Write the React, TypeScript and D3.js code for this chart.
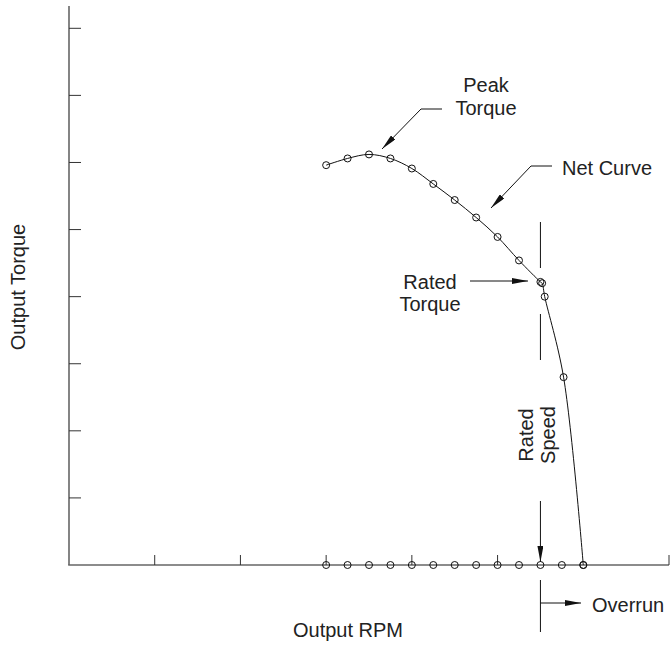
import React from "react";
import * as d3 from "d3";

// Curve data (Output RPM in tick units, Output Torque in tick units)
const curveRpm = [3.0, 3.25, 3.5, 3.75, 4.0, 4.25, 4.5, 4.75, 5.0, 5.25, 5.5, 5.52, 5.55, 5.77, 6.0];
const curveTorque = [5.96, 6.06, 6.12, 6.06, 5.91, 5.68, 5.44, 5.18, 4.89, 4.54, 4.22, 4.2, 4.0, 2.8, 0];

// Markers along the RPM axis
const axisMarks = [3.0, 3.25, 3.5, 3.75, 4.0, 4.25, 4.5, 4.75, 5.0, 5.25, 5.5, 5.75, 6.0];

const xTicks = [1, 2, 3, 4, 5, 7];
const yTicks = [1, 2, 3, 4, 5, 6, 7, 8];

const W = 671;
const H = 647;
const FONT = "'Liberation Sans', Arial, Helvetica, sans-serif";
const FS = 20;
const TXT = "#222";
const AX = "#666";

export default function App() {
  const x = d3.scaleLinear().domain([0, 7]).range([69, 669]);
  const y = d3.scaleLinear().domain([0, 8]).range([565, 28.3]);

  const pts: [number, number][] = curveRpm.map((r, i) => [r, curveTorque[i]]);
  const line = d3
    .line<[number, number]>()
    .x((d) => x(d[0]))
    .y((d) => y(d[1]))
    .curve(d3.curveCatmullRom.alpha(0.5));

  const rated = x(5.5);

  return (
    <svg
      width={W}
      height={H}
      style={{ position: "absolute", left: 0, top: 0, background: "#fff" }}
      fontFamily={FONT}
    >
      <defs>
        <marker
          id="ah"
          viewBox="0 0 16 6"
          refX={16}
          refY={3}
          markerWidth={16}
          markerHeight={6}
          markerUnits="userSpaceOnUse"
          orient="auto"
        >
          <path d="M0,0 L16,3 L0,6 Z" fill="#111" />
        </marker>
      </defs>

      {/* Y axis */}
      <line x1={x(0)} x2={x(0)} y1={6} y2={y(0)} stroke={AX} strokeWidth={1.6} />
      {yTicks.map((t) => (
        <line key={"yt" + t} x1={x(0)} x2={x(0) + 12} y1={y(t)} y2={y(t)} stroke="#333" strokeWidth={1} />
      ))}

      {/* X axis */}
      <line x1={x(0) - 0.8} x2={x(7)} y1={y(0)} y2={y(0)} stroke={AX} strokeWidth={1.6} />
      {xTicks.map((t) => (
        <line key={"xt" + t} x1={x(t)} x2={x(t)} y1={y(0)} y2={y(0) - 10} stroke="#333" strokeWidth={1} />
      ))}

      {/* curve */}
      <path d={line(pts) || ""} fill="none" stroke="#111" strokeWidth={1} />
      {pts.map((d, i) => (
        <circle key={"c" + i} cx={x(d[0])} cy={y(d[1])} r={3.5} fill="none" stroke="#111" strokeWidth={1} />
      ))}
      {axisMarks.map((m, i) => (
        <circle key={"m" + i} cx={x(m)} cy={y(0)} r={3.5} fill="none" stroke="#111" strokeWidth={1} />
      ))}

      {/* Peak Torque */}
      <text x={486} y={92} textAnchor="middle" fontSize={FS} fill={TXT}>Peak</text>
      <text x={486} y={115} textAnchor="middle" fontSize={FS} fill={TXT}>Torque</text>
      <polyline points="442,109 421,109 382,149" fill="none" stroke="#111" strokeWidth={1} markerEnd="url(#ah)" />

      {/* Net Curve */}
      <text x={562} y={175} fontSize={FS} fill={TXT}>Net Curve</text>
      <polyline points="552,166 531,166 491,208" fill="none" stroke="#111" strokeWidth={1} markerEnd="url(#ah)" />

      {/* Rated Torque */}
      <text x={430} y={289} textAnchor="middle" fontSize={FS} fill={TXT}>Rated</text>
      <text x={430} y={311} textAnchor="middle" fontSize={FS} fill={TXT}>Torque</text>
      <line x1={470} x2={528} y1={281} y2={281} stroke="#111" strokeWidth={1} markerEnd="url(#ah)" />

      {/* Rated Speed */}
      <line x1={rated} x2={rated} y1={222} y2={268} stroke="#111" strokeWidth={1} />
      <line x1={rated} x2={rated} y1={314} y2={360} stroke="#111" strokeWidth={1} />
      <line x1={rated} x2={rated} y1={501} y2={y(0) - 3} stroke="#111" strokeWidth={1} markerEnd="url(#ah)" />
      <text transform={`translate(533,435) rotate(-90)`} textAnchor="middle" fontSize={FS} fill={TXT}>Rated</text>
      <text transform={`translate(555,435) rotate(-90)`} textAnchor="middle" fontSize={FS} fill={TXT}>Speed</text>

      {/* Overrun */}
      <line x1={rated} x2={rated} y1={580} y2={632} stroke="#111" strokeWidth={1} />
      <line x1={rated} x2={581} y1={603} y2={603} stroke="#111" strokeWidth={1} markerEnd="url(#ah)" />
      <text x={592} y={612} fontSize={FS} fill={TXT}>Overrun</text>

      {/* Axis titles */}
      <text x={348} y={637} textAnchor="middle" fontSize={FS} fill={TXT}>Output RPM</text>
      <text transform={`translate(25,287) rotate(-90)`} textAnchor="middle" fontSize={FS} fill={TXT}>Output Torque</text>
    </svg>
  );
}
